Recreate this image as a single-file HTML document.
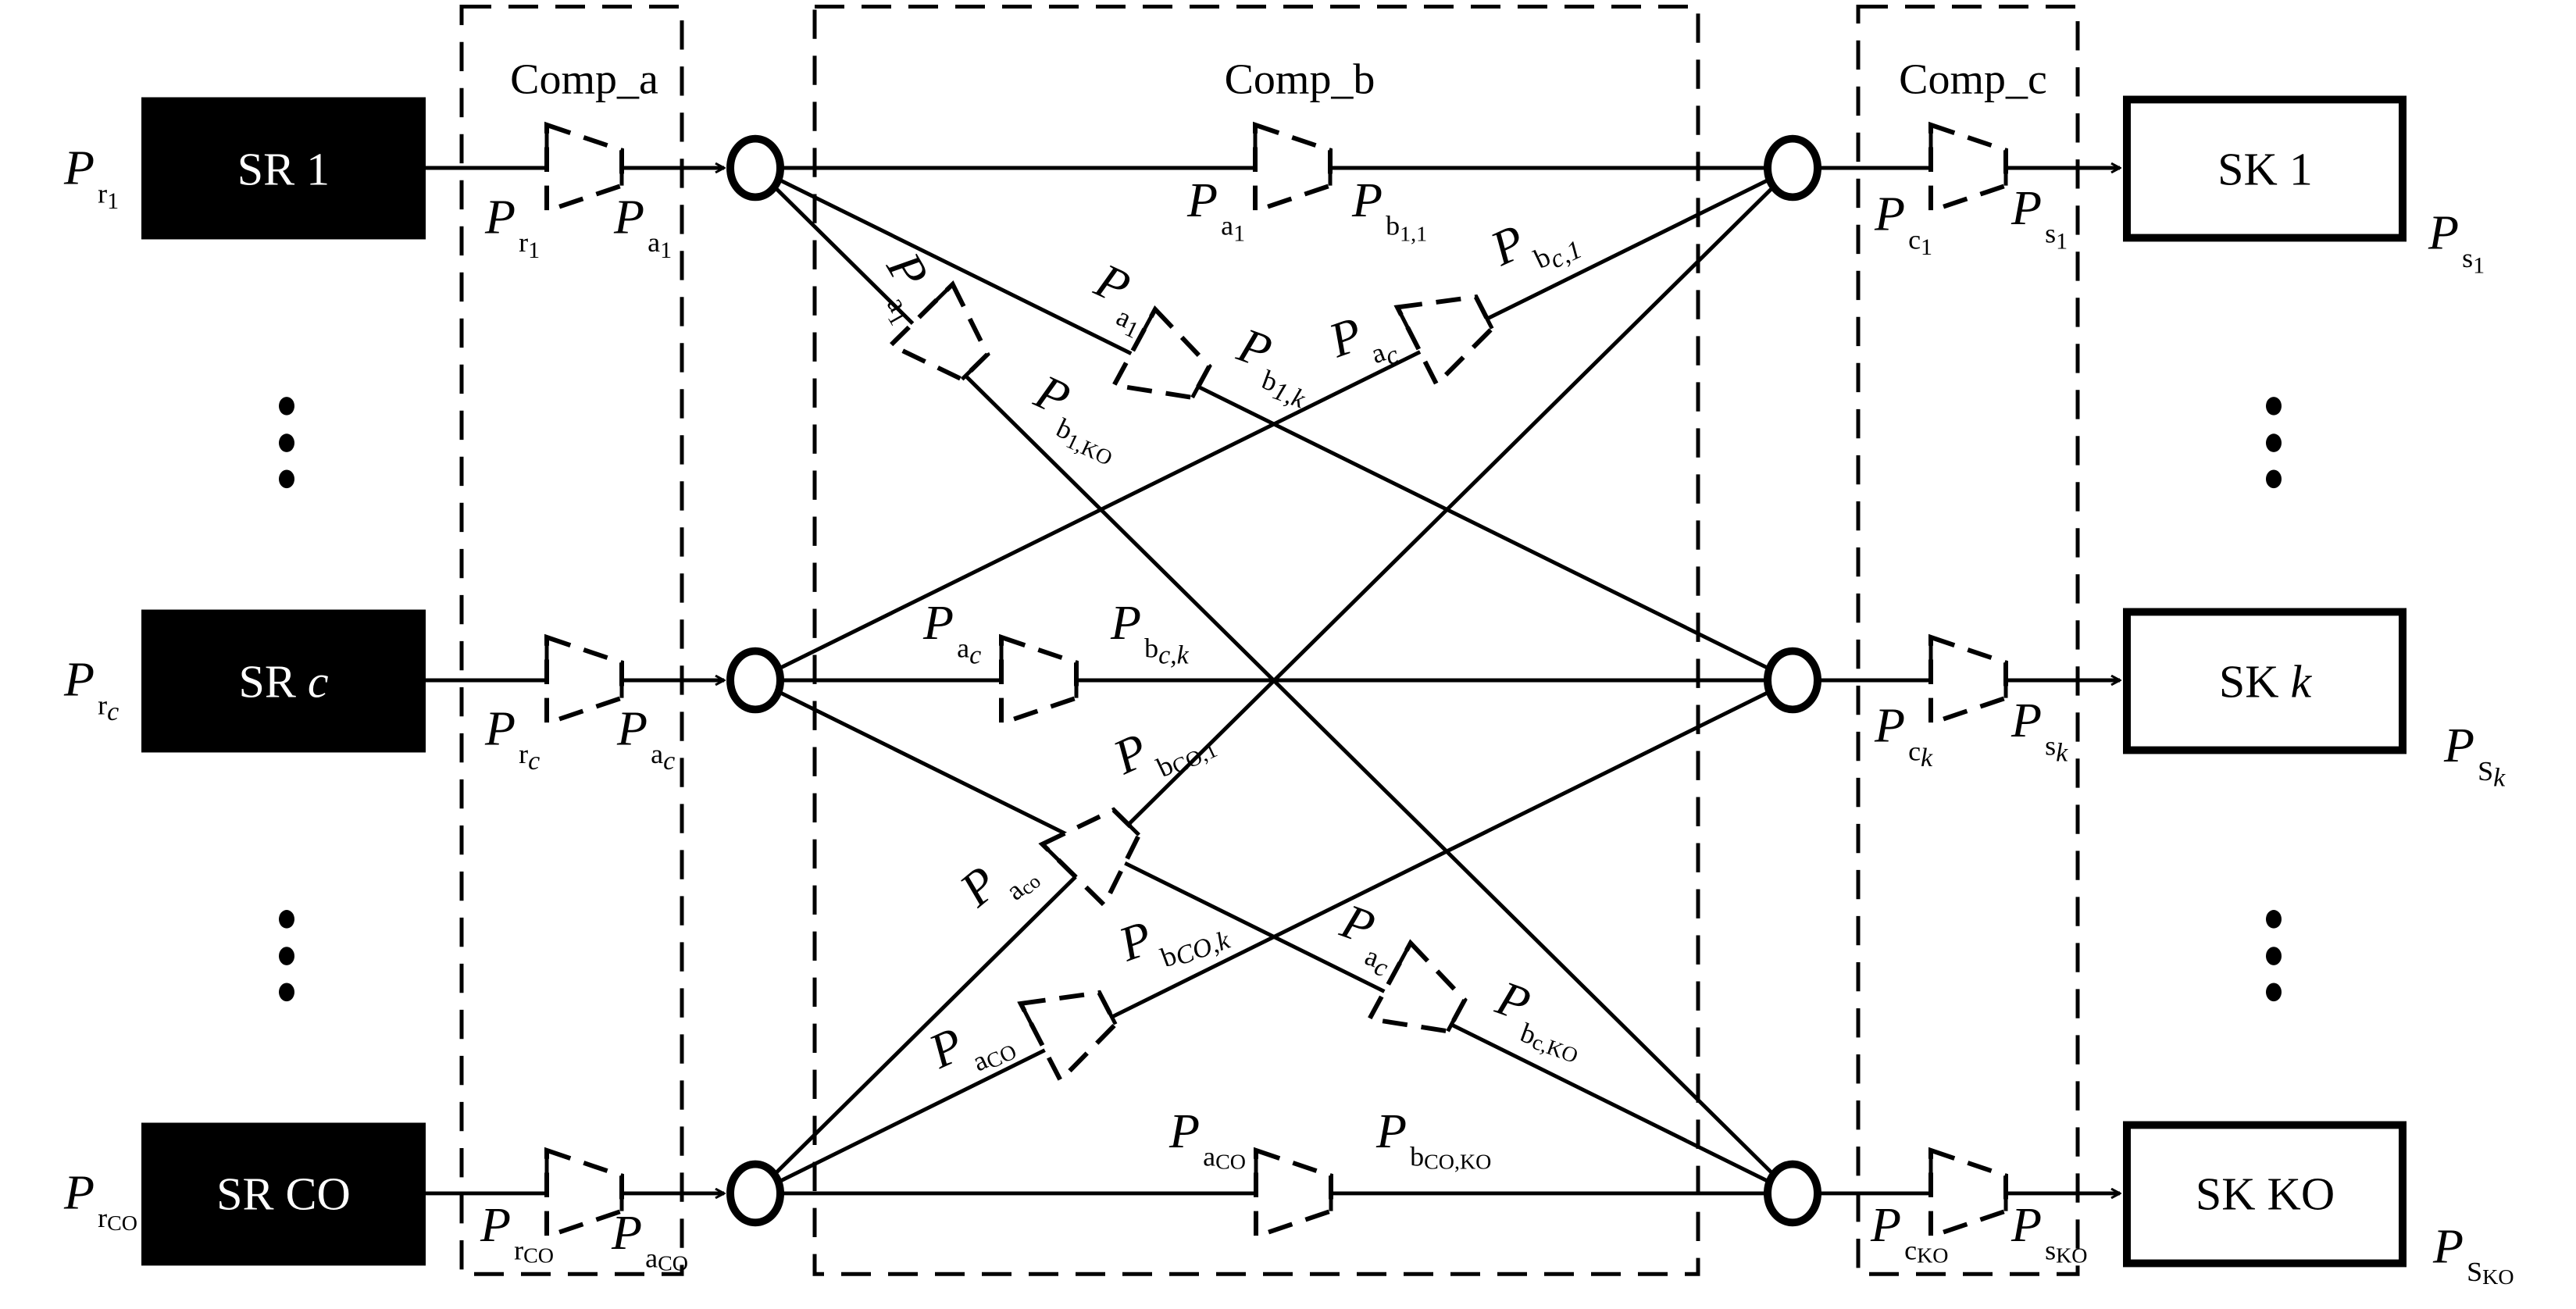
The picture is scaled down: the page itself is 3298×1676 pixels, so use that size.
<!DOCTYPE html>
<html><head><meta charset="utf-8"><style>
html,body{margin:0;padding:0;background:#fff}
svg{display:block}
text{font-family:"Liberation Serif",serif;fill:#000}
.P{font-style:italic;font-size:64px}
.s{font-size:36px;font-style:normal}
.si{font-size:34px;font-style:italic}
</style></head><body>
<svg width="3298" height="1676" viewBox="0 0 3298 1676" xmlns="http://www.w3.org/2000/svg">
<defs>
<marker id="ar" markerWidth="14" markerHeight="14" refX="12" refY="7" orient="auto" markerUnits="userSpaceOnUse">
<path d="M1,1 L12,7 L1,13" fill="none" stroke="#000" stroke-width="3"/>
</marker>
<g id="amp">
<polygon points="-48,-56 48,-23 48,23 -48,56" fill="#fff" stroke="#000" stroke-width="6" stroke-dasharray="32,18"/>
<line x1="-48" y1="-56" x2="-48" y2="0" stroke="#000" stroke-width="5"/>
<line x1="48" y1="0" x2="48" y2="23" stroke="#000" stroke-width="5"/>
</g>
</defs>
<g transform="translate(0,215) scale(1,0.9835) translate(0,-215)">

<!-- comp boxes -->
<g fill="none" stroke="#000" stroke-width="5" stroke-dasharray="38,22">
<rect x="591" y="5" width="282" height="1650"/>
<rect x="1043" y="5" width="1131" height="1650"/>
<rect x="2379" y="5" width="281" height="1650"/>
</g>

<!-- SR boxes -->
<rect x="181" y="123" width="364" height="185" fill="#000"/>
<rect x="181" y="790" width="364" height="186" fill="#000"/>
<rect x="181" y="1458" width="364" height="186" fill="#000"/>
<text x="363" y="237" font-size="60" text-anchor="middle" style="fill:#fff">SR 1</text>
<text x="363" y="904" font-size="60" text-anchor="middle" style="fill:#fff">SR <tspan font-style="italic">c</tspan></text>
<text x="363" y="1571" font-size="60" text-anchor="middle" style="fill:#fff">SR CO</text>

<!-- SK boxes -->
<g fill="#fff" stroke="#000" stroke-width="10">
<rect x="2723" y="126" width="353" height="180"/>
<rect x="2723" y="793" width="353" height="180"/>
<rect x="2723" y="1461" width="353" height="180"/>
</g>
<text x="2900" y="237" font-size="60" text-anchor="middle">SK 1</text>
<text x="2900" y="904" font-size="60" text-anchor="middle">SK <tspan font-style="italic">k</tspan></text>
<text x="2900" y="1571" font-size="60" text-anchor="middle">SK KO</text>

<!-- comp titles -->
<text x="748" y="118" font-size="56" text-anchor="middle">Comp_a</text>
<text x="1664" y="118" font-size="56" text-anchor="middle">Comp_b</text>
<text x="2526" y="118" font-size="56" text-anchor="middle">Comp_c</text>

<!-- lines -->
<g stroke="#000" stroke-width="5" fill="none">
<line x1="545" y1="215" x2="927" y2="215" marker-end="url(#ar)"/>
<line x1="545" y1="882" x2="927" y2="882" marker-end="url(#ar)"/>
<line x1="545" y1="1550" x2="927" y2="1550" marker-end="url(#ar)"/>
<line x1="2295" y1="215" x2="2714" y2="215" marker-end="url(#ar)"/>
<line x1="2295" y1="882" x2="2714" y2="882" marker-end="url(#ar)"/>
<line x1="2295" y1="1550" x2="2714" y2="1550" marker-end="url(#ar)"/>
<line x1="967" y1="215" x2="2295" y2="215"/>
<line x1="967" y1="215" x2="2295" y2="882"/>
<line x1="967" y1="215" x2="2295" y2="1550"/>
<line x1="967" y1="882" x2="2295" y2="215"/>
<line x1="967" y1="882" x2="2295" y2="882"/>
<line x1="967" y1="882" x2="2295" y2="1550"/>
<line x1="967" y1="1550" x2="2295" y2="215"/>
<line x1="967" y1="1550" x2="2295" y2="882"/>
<line x1="967" y1="1550" x2="2295" y2="1550"/>
</g>

<!-- amps -->
<use href="#amp" transform="translate(748,215)"/>
<use href="#amp" transform="translate(748,882)"/>
<use href="#amp" transform="translate(748,1550)"/>
<use href="#amp" transform="translate(2520,215)"/>
<use href="#amp" transform="translate(2520,882)"/>
<use href="#amp" transform="translate(2520,1550)"/>
<use href="#amp" transform="translate(1655,215)"/>
<use href="#amp" transform="translate(1495,471) rotate(28)"/>
<use href="#amp" transform="translate(1214,440) rotate(45)"/>
<use href="#amp" transform="translate(1857,425) rotate(-26.6)"/>
<use href="#amp" transform="translate(1330,882)"/>
<use href="#amp" transform="translate(1822,1296) rotate(28)"/>
<use href="#amp" transform="translate(1408,1101) rotate(-45)"/>
<use href="#amp" transform="translate(1375,1331) rotate(-27)"/>
<use href="#amp" transform="translate(1656,1550)"/>

<!-- circles -->
<g fill="#fff" stroke="#000" stroke-width="10">
<ellipse cx="967" cy="215" rx="32" ry="38"/>
<ellipse cx="967" cy="882" rx="32" ry="38"/>
<ellipse cx="967" cy="1550" rx="32" ry="38"/>
<ellipse cx="2295" cy="215" rx="32" ry="38"/>
<ellipse cx="2295" cy="882" rx="32" ry="38"/>
<ellipse cx="2295" cy="1550" rx="32" ry="38"/>
</g>

<!-- dots -->
<g fill="#000">
<ellipse cx="367" cy="525" rx="10" ry="12"/><ellipse cx="367" cy="573" rx="10" ry="12"/><ellipse cx="367" cy="620" rx="10" ry="12"/>
<ellipse cx="367" cy="1193" rx="10" ry="12"/><ellipse cx="367" cy="1241" rx="10" ry="12"/><ellipse cx="367" cy="1288" rx="10" ry="12"/>
<ellipse cx="2911" cy="525" rx="10" ry="12"/><ellipse cx="2911" cy="573" rx="10" ry="12"/><ellipse cx="2911" cy="620" rx="10" ry="12"/>
<ellipse cx="2911" cy="1193" rx="10" ry="12"/><ellipse cx="2911" cy="1241" rx="10" ry="12"/><ellipse cx="2911" cy="1288" rx="10" ry="12"/>
</g>

<!-- labels -->
<g>
<text class="P" x="82" y="236">P<tspan class="s" dx="4" dy="24">r<tspan dy="8" font-size="30">1</tspan></tspan></text>
<text class="P" x="82" y="902">P<tspan class="s" dx="4" dy="24">r<tspan class="si" dy="8" font-size="28">c</tspan></tspan></text>
<text class="P" x="82" y="1570">P<tspan class="s" dx="4" dy="24">r<tspan dy="4" font-size="28">CO</tspan></tspan></text>

<text class="P" x="621" y="300">P<tspan class="s" dx="4" dy="24">r<tspan dy="8" font-size="30">1</tspan></tspan></text>
<text class="P" x="786" y="300">P<tspan class="s" dx="4" dy="24">a<tspan dy="8" font-size="30">1</tspan></tspan></text>
<text class="P" x="621" y="966">P<tspan class="s" dx="4" dy="24">r<tspan class="si" dy="8" font-size="28">c</tspan></tspan></text>
<text class="P" x="790" y="966">P<tspan class="s" dx="4" dy="24">a<tspan class="si" dy="8" font-size="28">c</tspan></tspan></text>
<text class="P" x="615" y="1612">P<tspan class="s" dx="4" dy="24">r<tspan dy="4" font-size="28">CO</tspan></tspan></text>
<text class="P" x="783" y="1622">P<tspan class="s" dx="4" dy="24">a<tspan dy="4" font-size="28">CO</tspan></tspan></text>

<text class="P" x="2400" y="296">P<tspan class="s" dx="4" dy="24">c<tspan dy="8" font-size="30">1</tspan></tspan></text>
<text class="P" x="2575" y="288">P<tspan class="s" dx="4" dy="24">s<tspan dy="8" font-size="30">1</tspan></tspan></text>
<text class="P" x="2400" y="962">P<tspan class="s" dx="4" dy="24">c<tspan class="si" dy="8" font-size="28">k</tspan></tspan></text>
<text class="P" x="2575" y="955">P<tspan class="s" dx="4" dy="24">s<tspan class="si" dy="8" font-size="28">k</tspan></tspan></text>
<text class="P" x="2395" y="1612">P<tspan class="s" dx="4" dy="24">c<tspan dy="4" font-size="28">KO</tspan></tspan></text>
<text class="P" x="2575" y="1612">P<tspan class="s" dx="4" dy="24">s<tspan dy="4" font-size="28">KO</tspan></tspan></text>

<text class="P" x="3109" y="320">P<tspan class="s" dx="4" dy="24">s<tspan dy="8" font-size="30">1</tspan></tspan></text>
<text class="P" x="3129" y="988">P<tspan class="s" dx="4" dy="24">S<tspan class="si" dy="8" font-size="28">k</tspan></tspan></text>
<text class="P" x="3115" y="1640">P<tspan class="s" dx="4" dy="24">S<tspan dy="4" font-size="28">KO</tspan></tspan></text>

<text class="P" x="1520" y="278">P<tspan class="s" dx="4" dy="24">a<tspan dy="8" font-size="30">1</tspan></tspan></text>
<text class="P" x="1731" y="278">P<tspan class="s" dx="4" dy="24">b<tspan dy="8" font-size="28">1,1</tspan></tspan></text>
<text class="P" x="1182" y="828">P<tspan class="s" dx="4" dy="24">a<tspan class="si" dy="8" font-size="28">c</tspan></tspan></text>
<text class="P" x="1422" y="828">P<tspan class="s" dx="4" dy="24">b<tspan class="si" dy="8" font-size="28">c,k</tspan></tspan></text>
<text class="P" x="1497" y="1490">P<tspan class="s" dx="4" dy="24">a<tspan dy="4" font-size="28">CO</tspan></tspan></text>
<text class="P" x="1762" y="1490">P<tspan class="s" dx="4" dy="24">b<tspan dy="4" font-size="28">CO,KO</tspan></tspan></text>

<text class="P" transform="translate(1134,342) rotate(60)">P<tspan class="s" dx="4" dy="24">a<tspan dy="8" font-size="30">1</tspan></tspan></text>
<text class="P" transform="translate(1398,377) rotate(25)">P<tspan class="s" dx="4" dy="24">a<tspan dy="8" font-size="30">1</tspan></tspan></text>
<text class="P" transform="translate(1581,463) rotate(20)">P<tspan class="s" dx="4" dy="24">b<tspan class="si" dy="8" font-size="28">1,k</tspan></tspan></text>
<text class="P" transform="translate(1321,522) rotate(25)">P<tspan class="s" dx="4" dy="24">b<tspan dy="8" font-size="28">1,KO</tspan></tspan></text>
<text class="P" transform="translate(1712,462) rotate(-20)">P<tspan class="s" dx="4" dy="24">a<tspan class="si" dy="8" font-size="28">c</tspan></tspan></text>
<text class="P" transform="translate(1922,343) rotate(-25)">P<tspan class="s" dx="4" dy="24">b<tspan class="si" dy="8" font-size="28">c,1</tspan></tspan></text>
<text class="P" transform="translate(1439,1005) rotate(-25)">P<tspan class="s" dx="4" dy="24">b<tspan dy="4" font-size="28">CO,1</tspan></tspan></text>
<text class="P" transform="translate(1252,1179) rotate(-40)">P<tspan class="s" dx="4" dy="24">a<tspan dy="4" font-size="26">co</tspan></tspan></text>
<text class="P" transform="translate(1443,1248) rotate(-20)">P<tspan class="s" dx="4" dy="24">b<tspan class="si" dy="4" font-size="28">CO,k</tspan></tspan></text>
<text class="P" transform="translate(1203,1388) rotate(-25)">P<tspan class="s" dx="4" dy="24">a<tspan dy="4" font-size="28">CO</tspan></tspan></text>
<text class="P" transform="translate(1713,1213) rotate(20)">P<tspan class="s" dx="4" dy="24">a<tspan class="si" dy="8" font-size="28">c</tspan></tspan></text>
<text class="P" transform="translate(1912,1313) rotate(20)">P<tspan class="s" dx="4" dy="24">b<tspan dy="4" font-size="28">c,KO</tspan></tspan></text>
</g>
</g>
</svg>
</body></html>
